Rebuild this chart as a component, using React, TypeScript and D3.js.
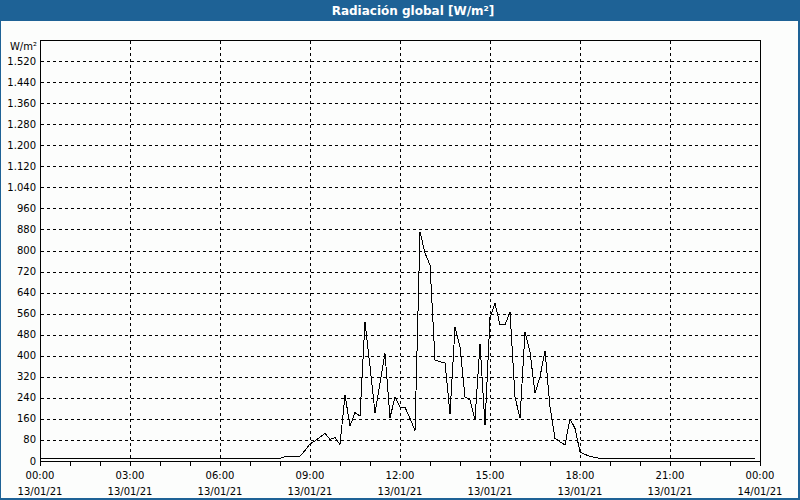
import { useMemo } from 'react';
import { scaleLinear, line as d3line, range, formatLocale, curveLinear } from 'd3';

const W = 800;
const H = 500;
const M = { top: 40, right: 40, bottom: 39, left: 40 };
const Y_MAX = 1600;

const TITLE = 'Radiación global [W/m²]';
const UNIT = 'W/m²';

// 10-minute samples (night flat segments kept as endpoints)
const TIMES = [
  '00:00', '08:00', '08:10', '08:20', '08:30', '08:40', '08:50',
  '09:00', '09:10', '09:20', '09:30', '09:40', '09:50',
  '10:00', '10:10', '10:20', '10:30', '10:40', '10:50',
  '11:00', '11:10', '11:20', '11:30', '11:40', '11:50',
  '12:00', '12:10', '12:20', '12:30', '12:40', '12:50',
  '13:00', '13:10', '13:20', '13:30', '13:40', '13:50',
  '14:00', '14:10', '14:20', '14:30', '14:40', '14:50',
  '15:00', '15:10', '15:20', '15:30', '15:40', '15:50',
  '16:00', '16:10', '16:20', '16:30', '16:40', '16:50',
  '17:00', '17:10', '17:20', '17:30', '17:40', '17:50',
  '18:00', '18:10', '18:20', '18:30', '18:40', '23:50',
];
const VALUES = [
  10, 10, 16, 16, 16, 18, 40,
  65, 76, 91, 105, 82, 89,
  63, 251, 133, 184, 171, 529,
  360, 184, 296, 409, 165, 242,
  205, 204, 162, 115, 871, 790,
  745, 384, 377, 374, 179, 508,
  434, 244, 232, 158, 445, 137,
  545, 599, 517, 517, 567, 244,
  162, 491, 415, 257, 320, 418,
  206, 86, 73, 61, 160, 124,
  35, 25, 18, 13, 10, 10,
];

const X_TICK_TIMES = ['00:00', '03:00', '06:00', '09:00', '12:00', '15:00', '18:00', '21:00', '00:00'];
const X_TICK_DATES = ['13/01/21', '13/01/21', '13/01/21', '13/01/21', '13/01/21', '13/01/21', '13/01/21', '13/01/21', '14/01/21'];
const Y_TICKS = range(0, 1521, 80);

const FONT = "'DejaVu Sans', Verdana, sans-serif";
const BLUE = '#1e6296';

const toMin = (s: string) => {
  const [h, m] = s.split(':').map(Number);
  return h * 60 + m;
};

const fmt = formatLocale({ decimal: ',', thousands: '.', grouping: [3], currency: ['', '€'] }).format(',d');

export default function App() {
  const x = scaleLinear().domain([0, 1440]).range([M.left, W - M.right]);
  const y = scaleLinear().domain([0, Y_MAX]).range([H - M.bottom, M.top]);

  const pathD = useMemo(() => {
    const pts = TIMES.map((t, i) => [toMin(t), VALUES[i]] as [number, number]);
    return (
      d3line<[number, number]>()
        .x((d) => x(d[0]))
        .y((d) => y(d[1]))
        .curve(curveLinear)(pts) ?? ''
    );
  }, []);

  const px = (v: number) => Math.round(v) + 0.5;
  const x0 = px(x(0));
  const x1 = px(x(1440));
  const yTop = px(y(Y_MAX));
  const yBot = px(y(0));

  return (
    <svg
      width={W}
      height={H}
      style={{ position: 'absolute', left: 0, top: 0, display: 'block' }}
      fontFamily={FONT}
    >
      <rect x={0} y={0} width={W} height={H} fill={BLUE} />
      <rect x={1} y={21} width={W - 3} height={H - 23} fill="#fcfdfc" />
      <text x={413} y={14.5} textAnchor="middle" fill="#fff" fontWeight="bold" fontSize={12}>
        {TITLE}
      </text>

      {/* horizontal grid */}
      {Y_TICKS.filter((t) => t > 0).map((t) => (
        <line
          key={t}
          x1={x0}
          x2={x1}
          y1={px(y(t))}
          y2={px(y(t))}
          stroke="#000"
          strokeDasharray="3,3"
          shapeRendering="crispEdges"
        />
      ))}
      {/* vertical grid */}
      {X_TICK_TIMES.slice(1, -1).map((t, i) => (
        <line
          key={i}
          x1={px(x(toMin(t)))}
          x2={px(x(toMin(t)))}
          y1={yTop}
          y2={yBot}
          stroke="#000"
          strokeDasharray="3,3"
          shapeRendering="crispEdges"
        />
      ))}

      {/* hourly ticks */}
      {range(0, 25).map((h) => (
        <line
          key={h}
          x1={px(x(h * 60))}
          x2={px(x(h * 60))}
          y1={yBot}
          y2={yBot + 4}
          stroke="#000"
          shapeRendering="crispEdges"
        />
      ))}

      <rect
        x={x0}
        y={yTop}
        width={x1 - x0}
        height={yBot - yTop}
        fill="none"
        stroke="#000"
        shapeRendering="crispEdges"
      />

      <path d={pathD} fill="none" stroke="#000" strokeWidth={1} shapeRendering="crispEdges" />

      {/* y labels */}
      <text x={37} y={46} dy="0.35em" textAnchor="end" fontSize={10} fill="#000">
        {UNIT}
      </text>
      {Y_TICKS.map((t) => (
        <text key={t} x={36} y={y(t)} dy="0.35em" textAnchor="end" fontSize={10} fill="#000">
          {fmt(t)}
        </text>
      ))}

      {/* x labels */}
      {X_TICK_TIMES.map((t, i) => (
        <g key={i} transform={`translate(${x(i * 180)},0)`}>
          <text y={479} textAnchor="middle" fontSize={10} fill="#000">
            {t}
          </text>
          <text y={494.5} textAnchor="middle" fontSize={10} fill="#000">
            {X_TICK_DATES[i]}
          </text>
        </g>
      ))}
    </svg>
  );
}
